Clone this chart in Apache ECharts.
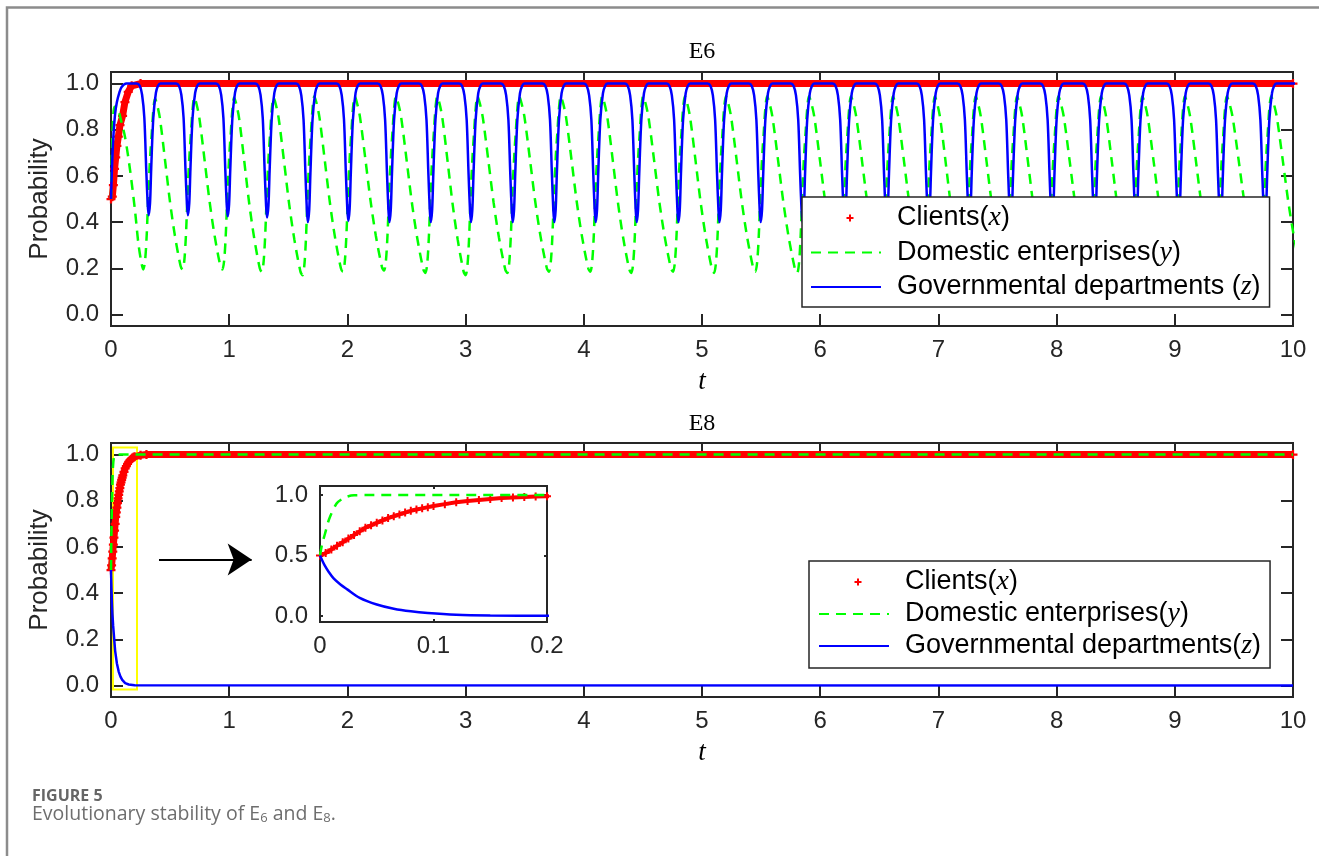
<!DOCTYPE html>
<html>
<head>
<meta charset="utf-8">
<title>Evolutionary stability of E6 and E8</title>
<script src="https://cdn.jsdelivr.net/npm/echarts@6/dist/echarts.min.js"></script>
<style>
  html, body { margin: 0; padding: 0; background: #fff; }
  #myChart { width: 1319px; height: 856px; }
</style>
</head>
<body>
<div id="myChart"></div>
<script>
  // ---------- values ----------

  // E6: times of the blue dips, blue value at each dip, green low / high around each dip
  var e6DipT = [0.318, 0.650, 0.987, 1.320, 1.665, 2.007, 2.355, 2.705, 3.045, 3.398,
                3.750, 4.100, 4.447, 4.800, 5.147, 5.496, 5.850, 6.205, 6.560, 6.915,
                7.260, 7.610, 7.960, 8.320, 8.670, 9.030, 9.385, 9.760, 10.130];
  var e6BlueMin = [0.43, 0.43, 0.425, 0.42, 0.40, 0.405, 0.40, 0.40, 0.40, 0.40,
                   0.40, 0.40, 0.40, 0.40, 0.40, 0.40, 0.40, 0.40, 0.40, 0.40,
                   0.40, 0.40, 0.40, 0.40, 0.40, 0.40, 0.40, 0.40, 0.40];
  var e6GreenMin = [0.195, 0.195, 0.195, 0.185, 0.17, 0.185, 0.19, 0.18, 0.17, 0.18,
                    0.185, 0.185, 0.18, 0.185, 0.18, 0.185, 0.18, 0.18, 0.18, 0.18,
                    0.18, 0.18, 0.18, 0.18, 0.18, 0.18, 0.18, 0.18, 0.18];
  var e6GreenMax = [0.935, 0.94, 0.94, 0.94, 0.945, 0.945, 0.945, 0.945, 0.945, 0.945,
                    0.945, 0.945, 0.945, 0.945, 0.945, 0.945, 0.945, 0.945, 0.945, 0.945,
                    0.945, 0.945, 0.945, 0.945, 0.945, 0.945, 0.945, 0.945, 0.945];

  // one blue dip: [t offset from the dip, share of the dip depth]
  var e6BlueDip = [[-0.1, 0], [-0.075, 0.017], [-0.055, 0.085], [-0.036, 0.26], [-0.02, 0.65],
                   [-0.008, 0.91], [0, 1], [0.012, 0.91], [0.022, 0.65], [0.04, 0.26],
                   [0.062, 0.07], [0.08, 0.017], [0.1, 0]];
  // green rise: [t offset from the blue dip, share between green low and high]
  var e6GreenRise = [[-0.045, 0], [-0.03, 0.05], [-0.016, 0.2], [0, 0.48], [0.015, 0.68],
                     [0.026, 0.79], [0.04, 0.93], [0.055, 1]];
  // green fall: [share of the way to the next low, share between low and high]
  var e6GreenFall = [[0.08, 0.96], [0.18, 0.88], [0.37, 0.63], [0.54, 0.4], [0.72, 0.2], [0.93, 0.02]];

  var e6Red = [[0, 0.5], [0.011, 0.51], [0.02, 0.56], [0.03, 0.63], [0.04, 0.68], [0.05, 0.73],
               [0.062, 0.77], [0.076, 0.82], [0.098, 0.86], [0.118, 0.92], [0.146, 0.964],
               [0.175, 0.99], [0.25, 1], [10, 1]];
  var e6BlueStart = [[0, 0.5], [0.01, 0.66], [0.02, 0.77], [0.035, 0.87], [0.05, 0.92],
                     [0.07, 0.96], [0.09, 0.985], [0.13, 1.0]];
  var e6GreenStart = [[0, 0.5], [0.008, 0.7], [0.018, 0.85], [0.03, 0.9], [0.05, 0.9],
                      [0.08, 0.85], [0.118, 0.77], [0.16, 0.63], [0.203, 0.45], [0.231, 0.31],
                      [0.255, 0.23]];

  // E8
  var e8Red = [[0, 0.5], [0.005, 0.52], [0.01, 0.55], [0.015, 0.58], [0.02, 0.61], [0.025, 0.64],
               [0.03, 0.67], [0.035, 0.70], [0.04, 0.73], [0.045, 0.75], [0.05, 0.77], [0.055, 0.79],
               [0.06, 0.81], [0.065, 0.825], [0.07, 0.84], [0.075, 0.855], [0.08, 0.87], [0.085, 0.88],
               [0.09, 0.89], [0.095, 0.90], [0.1, 0.91], [0.11, 0.925], [0.12, 0.94], [0.13, 0.95],
               [0.14, 0.96], [0.15, 0.968], [0.16, 0.975], [0.17, 0.98], [0.18, 0.985], [0.19, 0.988],
               [0.2, 0.99], [0.25, 0.997], [0.3, 1], [10, 1]];
  var e8Green = [[0, 0.5], [0.002, 0.6], [0.0044, 0.68], [0.008, 0.8], [0.0146, 0.93], [0.02, 0.97],
                 [0.025, 0.99], [0.03, 0.998], [0.04, 1], [10, 1]];
  var e8Blue = [[0, 0.5], [0.004, 0.42], [0.008, 0.36], [0.012, 0.31], [0.018, 0.26], [0.024, 0.22],
                [0.035, 0.15], [0.05, 0.095], [0.065, 0.06], [0.08, 0.038], [0.095, 0.024],
                [0.12, 0.01], [0.15, 0.004], [0.2, 0.001], [10, 0]];

  // zoom box and arrow of the E8 panel, in data units
  var e8ZoomBox = [[0.017, -0.017], [0.22, 1.03]];
  var e8Arrow = [[0.406, 0.545], [1.19, 0.545]];

  var yTicks = [0, 0.2, 0.4, 0.6, 0.8, 1.0];
  var insetYTicks = [0, 0.5, 1.0];

  var nameX = 'Clients(x)';
  var nameY = 'Domestic enterprises(y)';
  var nameZ6 = 'Governmental departments (z)';
  var nameZ8 = 'Governmental departments(z)';

  // ---------- build the E6 curves from the pieces above ----------
  function r4(v) { return Math.round(v * 10000) / 10000; }

  function e6BlueData() {
    var pts = e6BlueStart.slice();
    for (var i = 0; i < e6DipT.length; i++) {
      for (var k = 0; k < e6BlueDip.length; k++) {
        pts.push([r4(e6DipT[i] + e6BlueDip[k][0]), r4(1 - e6BlueDip[k][1] * (1 - e6BlueMin[i]))]);
      }
    }
    return pts;
  }

  function e6GreenData() {
    var pts = e6GreenStart.slice();
    for (var i = 0; i < e6DipT.length; i++) {
      var lo = e6GreenMin[i], hi = e6GreenMax[i], m = e6DipT[i];
      for (var k = 0; k < e6GreenRise.length; k++) {
        pts.push([r4(m + e6GreenRise[k][0]), r4(lo + e6GreenRise[k][1] * (hi - lo))]);
      }
      if (i + 1 < e6DipT.length) {
        var a = m + 0.055, b = e6DipT[i + 1] - 0.045, lo2 = e6GreenMin[i + 1];
        for (var j = 0; j < e6GreenFall.length; j++) {
          pts.push([r4(a + e6GreenFall[j][0] * (b - a)), r4(lo2 + e6GreenFall[j][1] * (hi - lo2))]);
        }
      }
    }
    return pts;
  }

  // ---------- chart ----------
  var axisColor = '#262626';
  var plusPath = 'path://M3,0 H5 V3 H8 V5 H5 V8 H3 V5 H0 V3 H3 Z';
  // small plus in a 70x14 box for the legend
  var plusIcon = 'path://M0,0 M70,0 M70,14 M0,14 M35.5,6 H38 V3.5 H40 V6 H42.5 V8 H40 V10.5 H38 V8 H35.5 Z';

  function xAxisOf(grid, pos, max, interval, tickLen, labels, name) {
    return {
      type: 'value', gridIndex: grid, position: pos, min: 0, max: max, interval: interval,
      axisLine: { show: false, onZero: false },
      axisTick: { show: true, inside: true, length: tickLen, lineStyle: { color: axisColor, width: 2 } },
      splitLine: { show: false },
      axisLabel: {
        show: labels, margin: 12, color: axisColor, fontFamily: 'Liberation Sans', fontSize: 24,
        formatter: function (v) { return v === 0 ? '0' : String(+v.toFixed(2)); }
      },
      name: name || '', nameLocation: 'middle', nameGap: 42,
      nameTextStyle: { fontFamily: 'Liberation Serif', fontStyle: 'italic', fontSize: 27, color: '#000' }
    };
  }

  function yAxisOf(grid, pos, max, ticks, tickLen, labels, name) {
    return {
      type: 'value', gridIndex: grid, position: pos, min: -0.05, max: max,
      axisLine: { show: false, onZero: false },
      axisTick: { show: true, inside: true, length: tickLen, customValues: ticks,
                  lineStyle: { color: axisColor, width: 2 } },
      splitLine: { show: false },
      axisLabel: {
        show: labels, margin: 12, color: axisColor, fontFamily: 'Liberation Sans', fontSize: 24,
        customValues: ticks,
        formatter: function (v) { return v.toFixed(1); }
      },
      name: name || '', nameLocation: 'middle', nameGap: 58,
      nameTextStyle: { fontFamily: 'Liberation Sans', fontSize: 26, color: axisColor }
    };
  }

  function redSeries(x, y, data, width, size) {
    return {
      name: nameX, type: 'line', xAxisIndex: x, yAxisIndex: y, data: data,
      symbol: plusPath, symbolSize: size, showAllSymbol: true,
      itemStyle: { color: '#ff0000' },
      lineStyle: { color: '#ff0000', width: width },
      z: 2
    };
  }

  function greenSeries(x, y, data, smooth) {
    return {
      name: nameY, type: 'line', xAxisIndex: x, yAxisIndex: y, data: data,
      symbol: 'none', smooth: smooth,
      itemStyle: { color: '#00ff00' },
      lineStyle: { color: '#00ff00', width: 2.5, type: [10, 7] },
      z: 3
    };
  }

  function blueSeries(name, x, y, data, smooth) {
    return {
      name: name, type: 'line', xAxisIndex: x, yAxisIndex: y, data: data,
      symbol: 'none', smooth: smooth,
      itemStyle: { color: '#0000ff' },
      lineStyle: { color: '#0000ff', width: 2.5 },
      z: 4
    };
  }

  function legendText(name) {
    return '{s| }' + name.replace(/\((\w)\)$/, '({v|$1})');
  }

  function legendOf(left, top, padding, lineHeight, gap, zName) {
    return {
      left: left, top: top, orient: 'vertical', selectedMode: false, z: 20,
      backgroundColor: '#fff', borderColor: axisColor, borderWidth: 1.5, borderRadius: 0,
      padding: padding, itemWidth: 70, itemHeight: 14, itemGap: gap,
      formatter: legendText,
      textStyle: {
        fontFamily: 'Liberation Sans', fontSize: 27, color: '#000', lineHeight: lineHeight,
        rich: {
          s: { width: 11, fontSize: 27 },
          v: { fontFamily: 'Liberation Serif', fontStyle: 'italic', fontSize: 28, color: '#000' }
        }
      },
      data: [
        { name: nameX, icon: plusIcon },
        { name: nameY, itemStyle: { opacity: 0 } },
        { name: zName, itemStyle: { opacity: 0 } }
      ]
    };
  }

  var myChart = echarts.init(document.getElementById('myChart'));

  var e8BlueMain = blueSeries(nameZ8, 2, 2, e8Blue, false);
  e8BlueMain.markArea = {
    silent: true,
    itemStyle: { color: 'rgba(0,0,0,0)', borderColor: '#ffff00', borderWidth: 2 },
    data: [[{ coord: e8ZoomBox[0] }, { coord: e8ZoomBox[1] }]]
  };
  e8BlueMain.markLine = {
    silent: true, symbol: ['none', 'arrow'], symbolSize: 24,
    label: { show: false },
    lineStyle: { color: '#000', width: 2, type: 'solid' },
    data: [[{ coord: e8Arrow[0] }, { coord: e8Arrow[1] }]]
  };

  myChart.setOption({
    animation: false,
    backgroundColor: '#fff',
    grid: [
      { left: 111, top: 72, width: 1182, height: 254, show: true, borderColor: axisColor, borderWidth: 2, backgroundColor: '#fff' },
      { left: 111, top: 443, width: 1182, height: 254, show: true, borderColor: axisColor, borderWidth: 2, backgroundColor: '#fff' },
      { left: 320, top: 486, width: 227, height: 136, show: true, borderColor: axisColor, borderWidth: 2, backgroundColor: '#fff' }
    ],
    xAxis: [
      xAxisOf(0, 'bottom', 10, 1, 12, true, 't'),
      xAxisOf(0, 'top', 10, 1, 12, false),
      xAxisOf(1, 'bottom', 10, 1, 12, true, 't'),
      xAxisOf(1, 'top', 10, 1, 12, false),
      xAxisOf(2, 'bottom', 0.2, 0.1, 3, true),
      xAxisOf(2, 'top', 0.2, 0.1, 3, false)
    ],
    yAxis: [
      yAxisOf(0, 'left', 1.05, yTicks, 12, true, 'Probability'),
      yAxisOf(0, 'right', 1.05, yTicks, 12, false),
      yAxisOf(1, 'left', 1.05, yTicks, 12, true, 'Probability'),
      yAxisOf(1, 'right', 1.05, yTicks, 12, false),
      yAxisOf(2, 'left', 1.075, insetYTicks, 3, true),
      yAxisOf(2, 'right', 1.075, insetYTicks, 3, false)
    ],
    legend: [
      legendOf(802, 197, [6, 9, 5, 8], 30, 4.5, nameZ6),
      legendOf(809, 561, [7, 9, 8, 9], 28, 4, nameZ8)
    ],
    series: [
      redSeries(0, 0, e6Red, 7, 9),
      greenSeries(0, 0, e6GreenData(), 0.3),
      blueSeries(nameZ6, 0, 0, e6BlueData(), 0.3),
      redSeries(2, 2, e8Red, 7, 9),
      greenSeries(2, 2, e8Green, false),
      e8BlueMain,
      redSeries(4, 4, e8Red, 4, 8),
      greenSeries(4, 4, e8Green, 0.3),
      blueSeries(nameZ8, 4, 4, e8Blue, 0.3)
    ],
    graphic: [
      { type: 'polyline', silent: true, shape: { points: [[7, 856], [7, 7.5], [1319, 7.5]] },
        style: { stroke: '#8c8c8c', lineWidth: 2.5, fill: null } },
      { type: 'text', x: 702, y: 52, silent: true,
        style: { text: 'E6', fill: '#000', font: '24px "Liberation Serif"', align: 'center', verticalAlign: 'middle' } },
      { type: 'text', x: 702, y: 424, silent: true,
        style: { text: 'E8', fill: '#000', font: '24px "Liberation Serif"', align: 'center', verticalAlign: 'middle' } },
      { type: 'text', left: 32, top: 788, silent: true,
        style: { text: 'FIGURE 5', fill: '#666', font: 'bold 16px "Open Sans"' } },
      { type: 'text', left: 32, top: 804, silent: true,
        style: {
          text: 'Evolutionary stability of E{sub|6} and E{sub|8}.', fill: '#6e6e6e', font: '19.5px "Open Sans"',
          rich: { sub: { fontSize: 13, fontFamily: 'Open Sans', fill: '#6e6e6e', verticalAlign: 'bottom', padding: [9, 0, 0, 0] } }
        } }
    ]
  });
</script>
</body>
</html>
